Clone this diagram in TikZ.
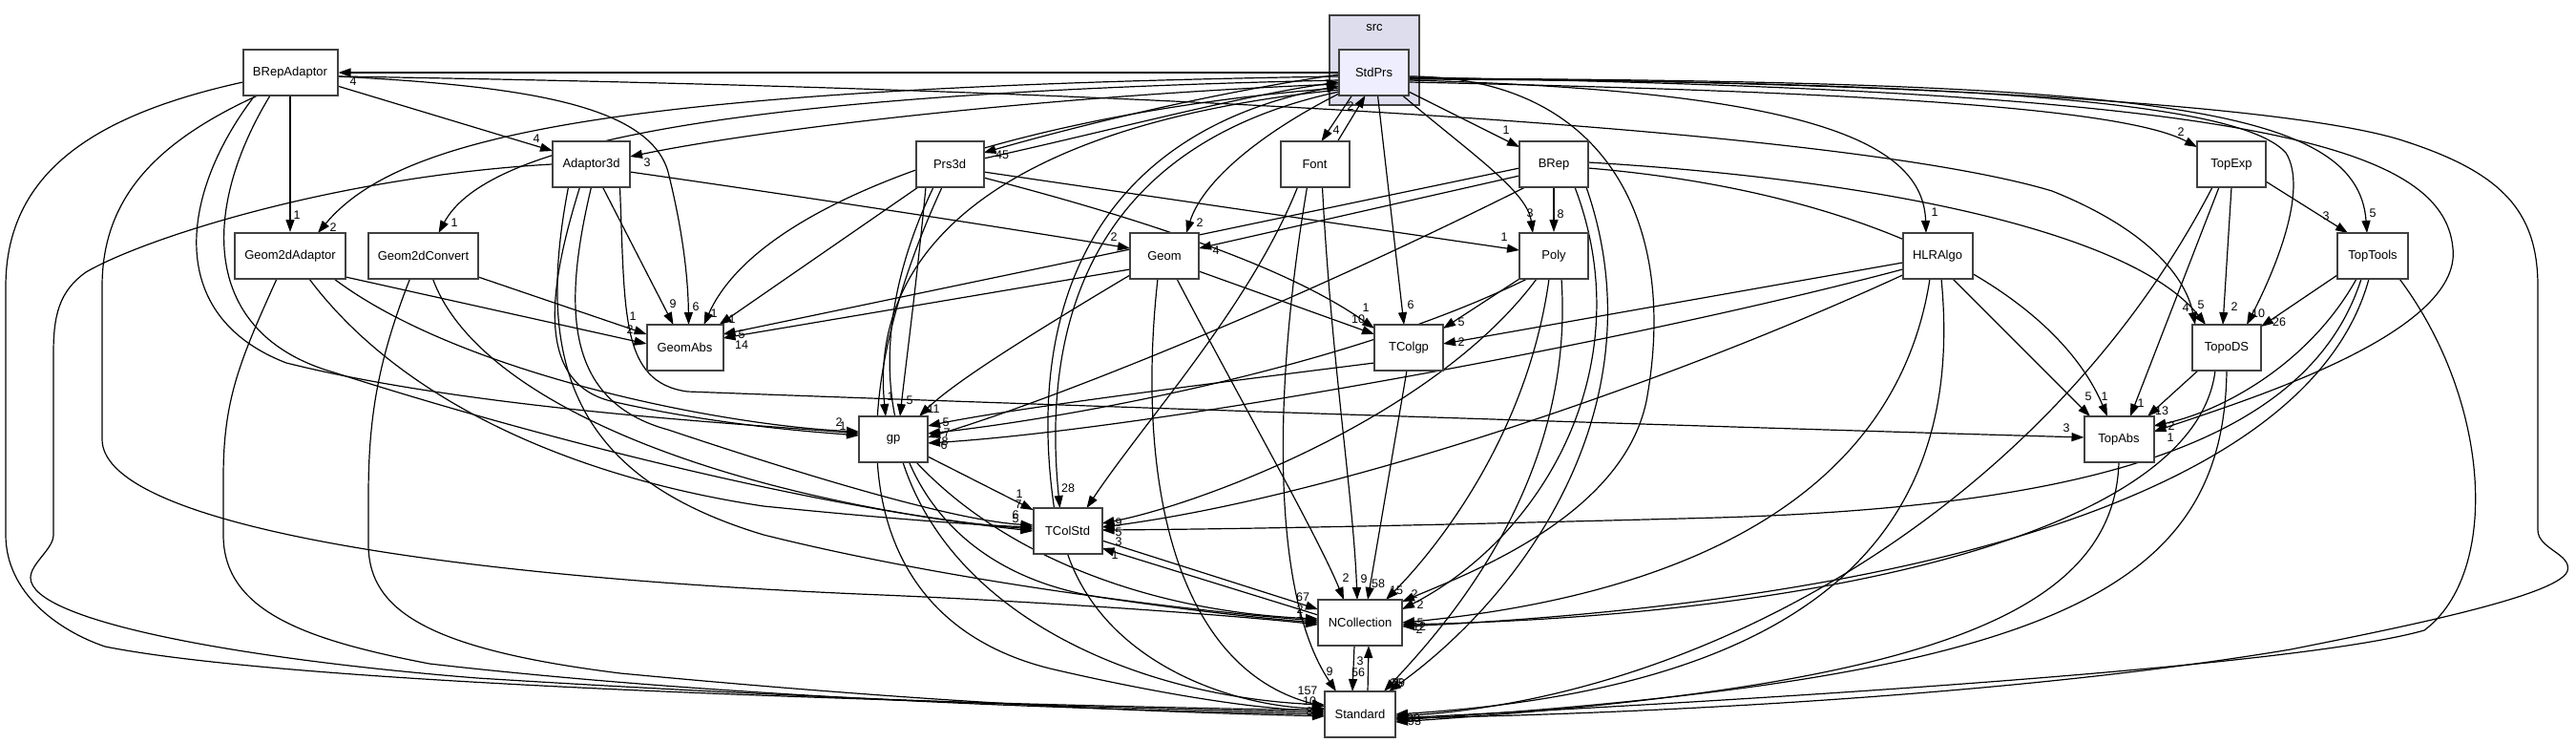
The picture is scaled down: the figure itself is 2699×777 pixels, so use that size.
\documentclass[tikz,border=0pt]{standalone}
\usepackage{fontspec}
\setmainfont{Liberation Sans}
\usetikzlibrary{arrows.meta,calc}
\definecolor{boxgray}{HTML}{404040}
\definecolor{clufill}{HTML}{DDDDEE}
\definecolor{mainfill}{HTML}{EEEEFF}
\pgfdeclarelayer{clu}
\pgfdeclarelayer{edg}
\pgfsetlayers{clu,edg,main}
\newcounter{lbc}
\newcommand\lb[3]{\stepcounter{lbc}\node[lbl] (L\thelbc) at (#1,#2) {#3};}
\begin{document}
\begin{tikzpicture}[x=1pt,y=-1pt,
  box/.style={draw=boxgray,line width=2pt,fill=white,minimum height=48pt,inner sep=0pt,font=\fontsize{13}{15}\selectfont},
  edge/.style={draw=black,line width=1.2pt,-{Triangle[length=13pt,width=9pt]}},
  lbl/.style={font=\fontsize{12.5}{13}\selectfont,inner sep=0pt}]
\begin{pgfonlayer}{clu}
\fill[white] (0,0) rectangle (2699,777);
\node[draw=boxgray,fill=clufill,line width=2pt,minimum width=94pt,minimum height=94pt,inner sep=0pt] (src) at (1440,63) {};
\end{pgfonlayer}
\useasboundingbox (0,0) rectangle (2699,777);
\node[font=\fontsize{13}{15}\selectfont,inner sep=0pt] (srclab) at (1440,29) {src};
\node[box,fill=mainfill,minimum width=73pt] (sp) at (1439.5,76) {StdPrs};
\node[box,minimum width=99pt] (bra) at (304,76) {BRepAdaptor};
\node[box,minimum width=81pt] (a3) at (619.5,172) {Adaptor3d};
\node[box,minimum width=71pt] (p3) at (995,172) {Prs3d};
\node[box,minimum width=72pt] (fo) at (1377.5,172) {Font};
\node[box,minimum width=72pt] (br) at (1628,172) {BRep};
\node[box,minimum width=72pt] (tex) at (2338,172) {TopExp};
\node[box,minimum width=116pt] (g2a) at (304,268) {Geom2dAdaptor};
\node[box,minimum width=115pt] (g2c) at (443.5,268) {Geom2dConvert};
\node[box,minimum width=72pt] (ge) at (1220,268) {Geom};
\node[box,minimum width=72pt] (po) at (1628,268) {Poly};
\node[box,minimum width=73pt] (hl) at (2030,268) {HLRAlgo};
\node[box,minimum width=74pt] (tt) at (2486,268) {TopTools};
\node[box,minimum width=80pt] (ga) at (717.5,364) {GeomAbs};
\node[box,minimum width=72pt] (tcg) at (1476,364) {TColgp};
\node[box,minimum width=72pt] (tds) at (2333,364) {TopoDS};
\node[box,minimum width=72pt] (gp) at (936,460) {gp};
\node[box,minimum width=73pt] (ta) at (2220,460) {TopAbs};
\node[box,minimum width=72pt] (tcs) at (1118.5,556) {TColStd};
\node[box,minimum width=88pt] (nc) at (1425,652) {NCollection};
\node[box,minimum width=74pt] (st) at (1425,748) {Standard};

\begin{pgfonlayer}{edg}
% StdPrs
\draw[edge] (sp.west) -- (bra.east);
\draw[edge] ($(bra)+(49.5,4)$) .. controls (1300,95) and (1950,140) .. (2150,200) .. controls (2250,240) and (2290,290) .. ($(tds)+(-33,-24)$);
\draw[edge] ($(sp)+(-36.5,12)$) .. controls (1100,100) and (800,135) .. ($(a3)+(40.5,-8)$);
\draw[edge] ($(sp)+(-36.5,4)$) .. controls (650,92) and (420,140) .. ($(g2a)+(29,-24)$);
\draw[edge] ($(sp)+(-36.5,8)$) .. controls (760,98) and (510,150) .. ($(g2c)+(16,-24)$);
\draw[edge] ($(sp)+(-36.5,16)$) .. controls (1100,115) and (800,200) .. ($(ga)+(20,-24)$);
\draw[edge] ($(p3)+(-33,24)$) -- ($(ga)+(36,-24)$);
\draw[edge] ($(sp)+(-36.5,2)$) .. controls (1250,100) and (1100,140) .. ($(p3)+(35.5,-12)$);
\draw[edge] ($(p3)+(35.5,-6)$) .. controls (1150,140) and (1300,100) .. ($(sp)+(-36.5,10)$);
\draw[edge] ($(sp)+(-23,24)$) -- ($(fo)+(7,-24)$);
\draw[edge] ($(fo)+(24,-24)$) -- ($(sp)+(-9,24)$);
\draw[edge] ($(sp)+(36.5,20)$) -- ($(br)+(-36,-18)$);
\draw[edge] ($(sp)+(30,24)$) .. controls (1540,160) and (1600,200) .. ($(po)+(-22,-24)$);
\draw[edge] ($(sp)+(4,24)$) -- ($(tcg)+(-5,-24)$);
\draw[edge] ($(sp)+(-36.5,22)$) .. controls (1320,140) and (1260,190) .. ($(ge)+(23,-24)$);
\draw[edge] ($(sp)+(-36.5,18)$) .. controls (1050,130) and (910,260) .. ($(gp)+(-8,-24)$);
\draw[edge] ($(sp)+(-36.5,20)$) .. controls (1150,150) and (1090,330) .. ($(tcs)+(-8,-24)$);
\draw[edge] ($(tcs)+(-14,-24)$) .. controls (1075,330) and (1140,140) .. ($(sp)+(-36.5,14)$);
\draw[edge] ($(sp)+(36.5,4)$) .. controls (1680,80) and (1760,230) .. (1725,420) .. controls (1700,540) and (1540,600) .. ($(nc)+(44,-22)$);
\draw[edge] ($(sp)+(36.5,6)$) .. controls (2000,85) and (2400,110) .. (2517,147) .. controls (2620,180) and (2659,220) .. (2659,300) -- (2659,555) .. controls (2659,575) and (2695,580) .. (2690,598) .. controls (2680,625) and (2500,660) .. (2400,680) .. controls (2100,730) and (1700,748) .. ($(st)+(37,4)$);
\draw[edge] ($(sp)+(36.5,8)$) .. controls (1900,95) and (2015,150) .. ($(hl)+(-12,-24)$);
\draw[edge] ($(sp)+(36.5,10)$) .. controls (1900,95) and (2220,110) .. ($(tex)+(-36,-18)$);
\draw[edge] ($(sp)+(36.5,6)$) .. controls (2250,85) and (2470,110) .. ($(tt)+(-6,-24)$);
\draw[edge] ($(sp)+(36.5,7)$) .. controls (2100,85) and (2350,110) .. (2395,160) .. controls (2420,200) and (2380,290) .. ($(tds)+(21,-24)$);
\draw[edge] ($(sp)+(36.5,5)$) .. controls (2350,95) and (2560,150) .. (2570,260) .. controls (2580,350) and (2350,420) .. ($(ta)+(36.5,-8)$);
% BRepAdaptor
\draw[edge] ($(bra)+(49.5,14)$) -- ($(a3)+(-40.5,-14)$);
\draw[edge] (bra.south) -- (g2a.north);
\draw[edge] ($(bra)+(49.5,4)$) .. controls (550,90) and (680,110) .. (700,180) .. controls (715,240) and (721,290) .. ($(ga)+(4,-24)$);
\draw[edge] ($(bra)+(-49.5,10)$) .. controls (100,120) and (6,180) .. (6,300) -- (6,560) .. controls (6,620) and (60,660) .. (110,677) .. controls (300,715) and (900,735) .. ($(st)+(-37,-4)$);
\draw[edge] ($(bra)+(-34,24)$) .. controls (160,150) and (107,210) .. (107,300) -- (107,460) .. controls (107,540) and (400,600) .. (900,622) .. controls (1100,630) and (1300,645) .. ($(nc)+(-44,2)$);
\draw[edge] ($(bra)+(-37,24)$) .. controls (190,200) and (170,330) .. (300,380) .. controls (500,430) and (800,445) .. ($(gp)+(-36,-6)$);
\draw[edge] ($(bra)+(-21,24)$) .. controls (210,220) and (210,350) .. (350,390) .. controls (600,470) and (900,540) .. ($(tcs)+(-36,-2)$);
% Adaptor3d
\draw[edge] ($(a3)+(12,24)$) -- ($(ga)+(-12,-24)$);
\draw[edge] ($(a3)+(40.5,8)$) .. controls (800,200) and (1000,230) .. ($(ge)+(-36,-8)$);
\draw[edge] (a3.west) .. controls (350,185) and (150,250) .. (90,285) .. controls (62,305) and (56,330) .. (56,370) -- (56,560) .. controls (56,575) and (32,590) .. (32,605) .. controls (32,650) and (250,690) .. (500,710) .. controls (900,735) and (1200,742) .. ($(st)+(-37,-2)$);
\draw[edge] ($(a3)+(-12,24)$) .. controls (575,300) and (560,400) .. (640,420) .. controls (750,445) and (850,452) .. ($(gp)+(-36,-4)$);
\draw[edge] ($(a3)+(0,24)$) .. controls (590,320) and (590,420) .. (700,450) .. controls (850,500) and (1000,545) .. ($(tcs)+(-36,-6)$);
\draw[edge] ($(a3)+(30,24)$) .. controls (655,330) and (650,400) .. (720,410) .. controls (1200,428) and (1900,450) .. ($(ta)+(-36.5,-2)$);
\draw[edge] ($(a3)+(-24,24)$) .. controls (560,380) and (600,500) .. (800,560) .. controls (1000,610) and (1250,640) .. ($(nc)+(-44,-2)$);
% Geom2dAdaptor
\draw[edge] ($(g2a)+(58,22)$) -- ($(ga)+(-40,-4)$);
\draw[edge] ($(g2a)+(46,24)$) .. controls (480,390) and (750,445) .. ($(gp)+(-36,-8)$);
\draw[edge] ($(g2a)+(20,24)$) .. controls (420,420) and (600,500) .. (800,530) .. controls (950,545) and (1030,550) .. ($(tcs)+(-36,-4)$);
\draw[edge] ($(g2a)+(-14,24)$) .. controls (250,380) and (234,420) .. (234,500) -- (234,560) .. controls (234,640) and (320,670) .. (450,695) .. controls (800,735) and (1200,744) .. ($(st)+(-37,0)$);
% Geom2dConvert
\draw[edge] ($(g2c)+(57.5,22)$) -- ($(ga)+(-40,-14)$);
\draw[edge] ($(g2c)+(10,24)$) .. controls (500,420) and (750,520) .. ($(tcs)+(-36,0)$);
\draw[edge] ($(g2c)+(-14,24)$) .. controls (395,380) and (386,440) .. (386,520) -- (386,570) .. controls (386,640) and (450,680) .. (650,705) .. controls (1000,738) and (1200,745) .. ($(st)+(-37,2)$);
% Prs3d
\draw[edge] ($(p3)+(-25,24)$) .. controls (960,300) and (948,390) .. ($(gp)+(7,-24)$);
\draw[edge] ($(p3)+(35.5,8)$) -- ($(po)+(-36,-6)$);
\draw[edge] ($(p3)+(35.5,14)$) .. controls (1200,230) and (1350,280) .. ($(tcg)+(-36,-20)$);
\draw[edge] ($(p3)+(-17,24)$) .. controls (880,400) and (940,590) .. (1150,625) .. controls (1250,640) and (1330,648) .. ($(nc)+(-44,0)$);
\draw[edge] ($(p3)+(-8,24)$) .. controls (870,450) and (900,650) .. (1100,700) .. controls (1250,735) and (1350,745) .. ($(st)+(-37,-6)$);
% Font
\draw[edge] ($(fo)+(-18,24)$) .. controls (1310,320) and (1200,440) .. ($(tcs)+(20,-24)$);
\draw[edge] ($(fo)+(8,24)$) .. controls (1395,380) and (1418,520) .. ($(nc)+(-3,-24)$);
\draw[edge] ($(fo)+(-8,24)$) .. controls (1335,400) and (1330,620) .. ($(st)+(-25,-24)$);
% Geom
\draw[edge] ($(ge)+(-36,14)$) -- ($(ga)+(40,-10)$);
\draw[edge] ($(ge)+(36,16)$) -- ($(tcg)+(-36,-14)$);
\draw[edge] ($(ge)+(-36,20)$) .. controls (1080,350) and (1000,400) .. ($(gp)+(27,-24)$);
\draw[edge] ($(ge)+(13,24)$) .. controls (1300,420) and (1380,560) .. ($(nc)+(-17,-24)$);
\draw[edge] ($(ge)+(-7,24)$) .. controls (1190,500) and (1230,700) .. ($(st)+(-37,-8)$);
% BRep
\draw[edge] ($(br)+(-36,4)$) -- ($(ga)+(40,-14)$);
\draw[edge] (br.south) -- (po.north);
\draw[edge] ($(br)+(-36,12)$) -- ($(ge)+(36,-8)$);
\draw[edge] ($(br)+(-30,24)$) .. controls (1350,320) and (1100,420) .. ($(gp)+(36,-2)$);
\draw[edge] ($(br)+(36,-2)$) .. controls (2000,190) and (2240,250) .. ($(tds)+(-22,-24)$);
\draw[edge] ($(br)+(36,4)$) .. controls (1950,200) and (2150,300) .. ($(ta)+(-12,-24)$);
\draw[edge] ($(br)+(22,24)$) .. controls (1720,380) and (1620,560) .. ($(nc)+(44,-14)$);
\draw[edge] ($(br)+(34,24)$) .. controls (1740,420) and (1600,620) .. ($(st)+(30,-24)$);
% Poly
\draw[edge] ($(po)+(-36,24)$) -- ($(tcg)+(36,-20)$);
\draw[edge] ($(po)+(-28,24)$) .. controls (1400,390) and (1100,440) .. ($(gp)+(36,-6)$);
\draw[edge] ($(po)+(-18,24)$) .. controls (1500,440) and (1250,530) .. ($(tcs)+(36,-8)$);
\draw[edge] ($(po)+(-5,24)$) .. controls (1600,460) and (1500,580) .. ($(nc)+(27,-24)$);
\draw[edge] ($(po)+(8,24)$) .. controls (1650,500) and (1520,650) .. ($(st)+(25,-24)$);
% TColgp
\draw[edge] ($(tcg)+(-36,16)$) .. controls (1200,410) and (1050,430) .. ($(gp)+(36,-14)$);
\draw[edge] ($(tcg)+(-2,24)$) -- ($(nc)+(8,-24)$);
% HLRAlgo
\draw[edge] ($(hl)+(-36.5,7)$) -- ($(tcg)+(36,-4)$);
\draw[edge] ($(hl)+(-36.5,14)$) .. controls (1700,360) and (1200,450) .. ($(gp)+(36,4)$);
\draw[edge] ($(hl)+(-36.5,20)$) .. controls (1750,400) and (1400,520) .. ($(tcs)+(36,-4)$);
\draw[edge] ($(hl)+(16,24)$) -- ($(ta)+(-30,-24)$);
\draw[edge] ($(hl)+(-8,24)$) .. controls (1990,500) and (1800,620) .. ($(nc)+(44,0)$);
\draw[edge] ($(hl)+(4,24)$) .. controls (2060,560) and (1900,720) .. ($(st)+(37,0)$);
% TopExp
\draw[edge] ($(tex)+(36,18)$) -- ($(tt)+(-26,-24)$);
\draw[edge] ($(tex)+(0,24)$) -- ($(tds)+(-4,-24)$);
\draw[edge] ($(tex)+(-13,24)$) -- ($(ta)+(12,-24)$);
\draw[edge] ($(tex)+(-20,24)$) .. controls (2150,520) and (1800,730) .. ($(st)+(37,2)$);
% TopTools
\draw[edge] ($(tt)+(-37,20)$) -- ($(tds)+(36,-22)$);
\draw[edge] ($(tt)+(-17,24)$) .. controls (2420,380) and (2330,430) .. ($(ta)+(36.5,-14)$);
\draw[edge] ($(tt)+(-12,24)$) .. controls (2420,460) and (2200,530) .. (1800,542) .. controls (1500,550) and (1300,554) .. ($(tcs)+(36,-1)$);
\draw[edge] ($(tt)+(-4,24)$) .. controls (2420,520) and (2000,630) .. ($(nc)+(44,4)$);
\draw[edge] ($(tt)+(28,24)$) .. controls (2610,420) and (2620,600) .. (2540,660) .. controls (2400,700) and (1800,735) .. ($(st)+(37,4)$);
% TopoDS
\draw[edge] ($(tds)+(-30,24)$) -- ($(ta)+(30,-24)$);
\draw[edge] ($(tds)+(-12,24)$) .. controls (2300,560) and (1900,645) .. ($(nc)+(44,2)$);
\draw[edge] ($(tds)+(0,24)$) .. controls (2330,620) and (2150,710) .. ($(st)+(37,6)$);
% TopAbs
\draw[edge] ($(ta)+(0,24)$) .. controls (2215,650) and (2000,720) .. ($(st)+(37,8)$);
% gp
\draw[edge] ($(gp)+(36,18)$) -- ($(tcs)+(-36,-22)$);
\draw[edge] ($(gp)+(24,24)$) .. controls (1050,580) and (1200,640) .. ($(nc)+(-44,-4)$);
\draw[edge] ($(gp)+(10,24)$) .. controls (1000,650) and (1200,730) .. ($(st)+(-37,-10)$);
% TColStd / NCollection / Standard
\draw[edge] ($(tcs)+(36,10)$) -- ($(nc)+(-44,-14)$);
\draw[edge] ($(nc)+(-44,-8)$) -- ($(tcs)+(36,18)$);
\draw[edge] ($(tcs)+(0,24)$) .. controls (1160,700) and (1300,740) .. ($(st)+(-37,-6)$);
\draw[edge] ($(nc)+(-6,24)$) -- ($(st)+(-8,-24)$);
\draw[edge] ($(st)+(8,-24)$) -- ($(nc)+(9,24)$);
\end{pgfonlayer}

% labels
\lb{370}{85}{4}
\lb{2290}{322}{4}
\lb{678}{170}{3}
\lb{349}{238}{2}
\lb{476}{233}{1}
\lb{748}{328}{1}
\lb{767}{334}{1}
\lb{1050}{162}{45}
\lb{1400}{136}{4}
\lb{1415}{111}{2}
\lb{1578}{136}{1}
\lb{1603}{223}{3}
\lb{1478}{319}{6}
\lb{1257}{233}{2}
\lb{933}{415}{1}
\lb{1119}{511}{28}
\lb{1482}{622}{2}
\lb{2027}{222}{1}
\lb{2285}{138}{2}
\lb{2486}{223}{5}
\lb{2366}{328}{10}
\lb{2274}{458}{1}
\lb{562}{145}{4}
\lb{311}{225}{1}
\lb{729}{321}{6}
\lb{879}{442}{2}
\lb{883}{446}{1}
\lb{705}{318}{9}
\lb{1167}{248}{2}
\lb{2165}{448}{3}
\lb{660}{345}{2}
\lb{663}{331}{1}
\lb{953}{419}{5}
\lb{1576}{248}{1}
\lb{1431}{322}{1}
\lb{1429}{606}{9}
\lb{1393}{703}{9}
\lb{777}{361}{14}
\lb{777}{350}{5}
\lb{1423}{334}{10}
\lb{978}{428}{11}
\lb{1410}{605}{2}
\lb{1635}{224}{8}
\lb{1274}{262}{4}
\lb{989}{466}{6}
\lb{2306}{319}{5}
\lb{2205}{415}{1}
\lb{1488}{633}{2}
\lb{1463}{715}{25}
\lb{1465}{715}{29}
\lb{1531}{337}{5}
\lb{992}{453}{7}
\lb{1172}{547}{9}
\lb{1463}{618}{15}
\lb{991}{442}{5}
\lb{1444}{611}{58}
\lb{1531}{358}{2}
\lb{990}{462}{8}
\lb{1172}{557}{5}
\lb{2188}{415}{5}
\lb{1488}{652}{5}
\lb{2437}{226}{3}
\lb{2341}{321}{2}
\lb{2243}{422}{1}
\lb{2388}{337}{26}
\lb{2275}{446}{2}
\lb{1172}{567}{3}
\lb{1487}{656}{12}
\lb{2265}{430}{13}
\lb{1487}{659}{2}
\lb{1068}{517}{1}
\lb{1067}{528}{7}
\lb{1064}{539}{6}
\lb{1064}{543}{5}
\lb{1365}{625}{67}
\lb{1168}{581}{1}
\lb{1362}{638}{2}
\lb{1362}{643}{1}
\lb{1423}{704}{56}
\lb{1425}{692}{3}
\lb{1370}{723}{157}
\lb{1372}{734}{10}
\lb{1372}{745}{8}
\lb{1481}{752}{90}
\lb{1482}{755}{93}
\end{tikzpicture}
\end{document}
